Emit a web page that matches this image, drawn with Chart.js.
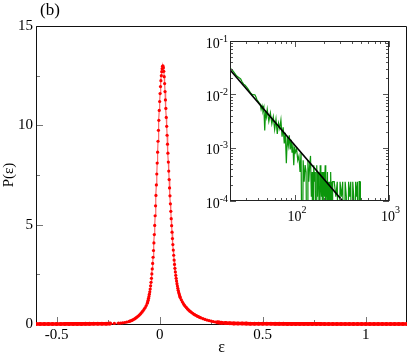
<!DOCTYPE html>
<html><head><meta charset="utf-8">
<style>
html,body{margin:0;padding:0;background:#fff;}
#wrap{position:relative;width:409px;height:354px;overflow:hidden;}
#main{position:absolute;left:0;top:0;}
#inset{position:absolute;left:200px;top:30px;}
</style>
<script src="https://cdn.jsdelivr.net/npm/chart.js@4/dist/chart.umd.min.js"></script>
</head><body>
<div id="wrap"><canvas id="main" width="409" height="354"></canvas><canvas id="inset" width="210" height="200"></canvas></div>
<script>
// ---------- main panel data: P(eps) ----------
const eps = [
 -0.60,-0.58,-0.56,-0.54,-0.52,-0.50,-0.48,-0.46,-0.44,-0.42,-0.40,-0.38,-0.36,-0.34,-0.32,-0.30,-0.28,-0.26,-0.24,-0.22,
 -0.20,-0.19,-0.18,-0.17,-0.16,-0.15,
 -0.145,-0.14,-0.135,-0.13,-0.125,-0.12,-0.115,-0.11,-0.105,-0.10,-0.095,-0.09,-0.085,-0.08,-0.075,-0.07,-0.065,
 -0.060,-0.058,-0.056,-0.054,-0.052,-0.050,-0.048,-0.046,-0.044,-0.042,-0.040,-0.038,-0.036,-0.034,-0.032,-0.030,-0.028,-0.026,-0.024,-0.022,
 -0.020,-0.018,-0.016,-0.014,-0.012,-0.010,-0.008,-0.006,-0.004,-0.002,0.000,0.002,0.004,0.006,0.008,0.010,0.012,0.014,0.016,0.018,
 0.020,0.022,0.024,0.026,0.028,0.030,0.032,0.034,0.036,0.038,0.040,0.042,0.044,0.046,0.048,0.050,0.052,0.054,0.056,0.058,
 0.060,0.062,0.064,0.066,0.068,0.070,0.072,0.074,0.076,0.078,0.080,0.082,0.084,0.086,0.088,0.090,0.092,0.094,0.096,0.098,0.100,
 0.105,0.11,0.115,0.12,0.125,0.13,0.135,0.14,0.145,0.15,0.155,0.16,0.165,0.17,0.175,0.18,0.185,0.19,0.195,0.20,
 0.21,0.22,0.23,0.24,0.25,0.26,0.27,0.28,0.29,0.30,
 0.32,0.34,0.36,0.38,0.40,0.42,0.44,0.46,0.48,0.50,0.52,0.54,0.56,0.58,0.60,0.62,0.64,0.66,0.68,0.70,
 0.72,0.74,0.76,0.78,0.80,0.82,0.84,0.86,0.88,0.90,0.92,0.94,0.96,0.98,1.00,1.02,1.04,1.06,1.08,1.10,
 1.12,1.14,1.16,1.18,1.20
];
const prob = [
 0.002,0.002,0.002,0.003,0.003,0.003,0.003,0.004,0.004,0.005,0.005,0.006,0.007,0.008,0.009,0.011,0.013,0.016,0.020,0.027,
 0.040,0.048,0.060,0.075,0.095,0.120,
 0.14,0.16,0.18,0.21,0.24,0.27,0.31,0.35,0.39,0.44,0.49,0.55,0.61,0.68,0.75,0.83,0.93,
 1.05,1.12,1.20,1.29,1.39,1.50,1.62,1.76,1.92,2.10,2.30,2.52,2.77,3.05,3.36,3.70,4.08,4.50,4.96,5.45,
 5.95,6.47,7.00,7.55,8.10,8.65,9.20,9.75,10.25,10.75,11.20,11.60,11.95,12.25,12.50,12.70,12.85,12.97,13.00,12.90,
 12.72,12.45,12.10,11.70,11.28,10.85,10.40,9.95,9.50,9.05,8.60,8.15,7.70,7.27,6.85,6.45,6.05,5.67,5.30,4.95,
 4.62,4.30,4.00,3.72,3.46,3.22,3.00,2.80,2.62,2.45,2.30,2.16,2.03,1.91,1.80,1.70,1.61,1.53,1.46,1.39,1.33,
 1.22,1.12,1.03,0.95,0.88,0.82,0.76,0.71,0.66,0.62,0.58,0.54,0.50,0.47,0.44,0.41,0.38,0.36,0.33,0.31,
 0.27,0.23,0.20,0.17,0.145,0.12,0.10,0.085,0.072,0.062,
 0.048,0.038,0.031,0.026,0.022,0.019,0.016,0.014,0.012,0.011,0.010,0.009,0.008,0.007,0.007,0.006,0.006,0.005,0.005,0.005,
 0.004,0.004,0.004,0.004,0.003,0.003,0.003,0.003,0.003,0.003,0.003,0.002,0.002,0.002,0.002,0.002,0.002,0.002,0.002,0.002,
 0.002,0.002,0.002,0.002,0.002
];
const xMajor = [-0.5, 0, 0.5, 1];
const xMinor = [-0.25, 0.25, 0.75];
const xLabels = ['-0.5', '0', '0.5', '1'];
const yMajor = [0, 5, 10, 15];
const yMinor = [2.5, 7.5, 12.5];
const yLabels = ['0', '5', '10', '15'];

// ---------- inset data (log-log) ----------
const gx = [
 20,21,22,23,24,25,26,27,28,29,30,31,32,33,34,35,36,37,38,39,40,41,42,43,44,45,46,47,48,49,50,
 52,54,56,58,60,62,64,66,68,70,72,74,76,78,80,82,84,86,88,90,92,94,96,98,100,
 103,106,109,112,115,118,121,124,127,130,133,136,139,142,145,148,151,154,157,160,
 163,166,169,172,175,178,181,184,187,190,193,196,199,202,205,208,211,214,217,220,
 223,226,229,232,235,238,241,244,247,250,
 260,270,280,290,300,310,320,330,340,350,360,370,380,390,400,410,420,430,440,450,460,470,480,490,495
];
const gy = [
 0.031,0.029,0.026,0.0235,0.0215,0.0205,0.0195,0.017,0.0155,0.0148,0.0138,0.0128,0.0118,0.0108,0.0101,0.0098,0.0099,0.0097,0.0088,0.0078,
 0.0074,0.0069,0.0066,0.0052,0.0061,0.0049,0.0057,0.0021,0.0049,0.0038,0.0052,
 0.0031,0.0045,0.0028,0.0038,0.0022,0.0034,0.0018,0.0029,0.0023,0.0033,0.0016,0.0024,0.0012,0.0019,0.00051,0.0016,0.0011,0.0017,0.00093,0.0014,
 0.00082,0.0012,0.00047,0.00105,0.00082,
 0.00094,0.00058,0.0007,0.00035,0.00082,1e-6,0.00058,0.00023,0.00047,0.00035,1e-6,0.00058,0.00023,0.00047,0.0007,0.00012,0.00035,1e-6,0.00047,0.00023,
 0.00035,1e-6,0.00047,0.00012,0.00035,0.00023,1e-6,0.00047,0.00023,0.00012,0.00035,1e-6,0.00023,0.00035,0.00012,0.00047,1e-6,0.00023,0.00012,0.00035,
 1e-6,0.00023,0.00012,0.00023,1e-6,0.00035,0.00012,0.00023,1e-6,0.00023,
 0.00023,0.00012,0.00023,1e-6,0.00023,0.00012,0.00023,1e-6,0.00023,0.00012,1e-6,0.00023,0.00012,0.00023,1e-6,0.00023,0.00012,1e-6,0.00023,0.00012,
 0.00023,1e-6,0.00023,0.00023,1e-6
];
const fitX = [20, 320];
const fitY = [0.029, 0.0001];
const insetXMajor = [100, 1000];
const insetXExp = ['2', '3'];
const insetYMajor = [1e-1, 1e-2, 1e-3, 1e-4];
const insetYExp = ['-1', '-2', '-3', '-4'];

const SERIF = '"Liberation Serif", "Times New Roman", serif';
const inTail = v => Math.abs(v - 0.02) > 0.25;

// ---------- main chart ----------
const mainDeco = {
  id: 'mainDeco',
  beforeDatasetsDraw(chart) {
    const {ctx, chartArea: a, scales: {x, y}} = chart;
    ctx.save();
    ctx.lineWidth = 1;
    ctx.strokeStyle = '#777';
    ctx.beginPath();
    yMajor.forEach(v => { const p = Math.round(y.getPixelForValue(v)) + 0.5; ctx.moveTo(a.left, p); ctx.lineTo(a.left + 7, p); });
    yMinor.forEach(v => { const p = Math.round(y.getPixelForValue(v)) + 0.5; ctx.moveTo(a.left, p); ctx.lineTo(a.left + 4, p); });
    xMajor.forEach(v => { const p = Math.round(x.getPixelForValue(v)) + 0.5; ctx.moveTo(p, a.bottom); ctx.lineTo(p, a.bottom - 7); });
    xMinor.forEach(v => { const p = Math.round(x.getPixelForValue(v)) + 0.5; ctx.moveTo(p, a.bottom); ctx.lineTo(p, a.bottom - 4); });
    ctx.stroke();
    ctx.strokeStyle = '#111';
    ctx.beginPath();
    ctx.moveTo(a.left + 0.5, a.top + 0.5); ctx.lineTo(a.right - 0.5, a.top + 0.5);
    ctx.lineTo(a.right - 0.5, a.bottom); ctx.moveTo(a.left + 0.5, a.top + 0.5);
    ctx.lineTo(a.left + 0.5, a.bottom + 0.5); ctx.lineTo(a.right, a.bottom + 0.5);
    ctx.stroke();
    ctx.restore();
  },
  afterDraw(chart) {
    const {ctx, chartArea: a} = chart;
    ctx.save();
    ctx.fillStyle = '#000';
    ctx.textBaseline = 'middle';
    ctx.textAlign = 'left';
    ctx.font = '17px ' + SERIF;
    ctx.fillText('(b)', 40, 11);
    ctx.textAlign = 'center';
    ctx.font = '16px ' + SERIF;
    ctx.fillText('\u03b5', (a.left + a.right) / 2, 348);
    ctx.translate(9, (a.top + a.bottom) / 2);
    ctx.rotate(-Math.PI / 2);
    ctx.font = '15px ' + SERIF;
    ctx.fillText('P(\u03b5)', 0, 0);
    ctx.restore();
  }
};

new Chart(document.getElementById('main'), {
  type: 'line',
  data: {
    datasets: [{
      data: eps.map((e, i) => ({x: e, y: prob[i]})),
      borderColor: 'rgba(255,0,0,0.6)',
      borderWidth: 1.2,
      segment: {
        borderWidth: c => (inTail(c.p0.parsed.x) && inTail(c.p1.parsed.x) ? 3.6 : 1.2),
        borderColor: c => (inTail(c.p0.parsed.x) && inTail(c.p1.parsed.x) ? '#ff0000' : 'rgba(255,0,0,0.6)')
      },
      pointRadius: c => (c.raw && inTail(c.raw.x) ? 2.0 : 1.6),
      pointBackgroundColor: '#ff0000',
      pointBorderWidth: 0,
      pointHoverRadius: 0,
      tension: 0,
      clip: {left: 0, right: 0, top: 5, bottom: 5}
    }]
  },
  options: {
    responsive: false,
    animation: false,
    devicePixelRatio: 1,
    events: [],
    layout: {padding: {top: 26, right: 1, left: 0, bottom: 0}},
    plugins: {legend: {display: false}, tooltip: {enabled: false}},
    scales: {
      x: {
        type: 'linear', min: -0.6, max: 1.2,
        grid: {display: false, drawTicks: false},
        border: {display: false},
        afterBuildTicks: s => { s.ticks = xMajor.map(v => ({value: v})); },
        afterFit: s => { s.height = 30; },
        ticks: {callback: (v, i) => xLabels[i], font: {family: SERIF, size: 15}, color: '#000', padding: 2, maxRotation: 0, autoSkip: false}
      },
      y: {
        type: 'linear', min: 0, max: 15,
        grid: {display: false, drawTicks: false},
        border: {display: false},
        afterBuildTicks: s => { s.ticks = yMajor.map(v => ({value: v})); },
        afterFit: s => { s.width = 36; },
        ticks: {callback: (v, i) => yLabels[i], font: {family: SERIF, size: 15}, color: '#000', padding: 3, autoSkip: false}
      }
    }
  },
  plugins: [mainDeco]
});

// ---------- inset chart ----------
const insetDeco = {
  id: 'insetDeco',
  afterDatasetsDraw(chart) {
    const {ctx, chartArea: a, scales: {x, y}} = chart;
    ctx.save();
    ctx.lineWidth = 1;
    ctx.strokeStyle = '#555';
    ctx.beginPath();
    const minorX = [], minorY = [];
    [10, 100].forEach(d => { for (let m = 2; m <= 9; m++) { const v = d * m; if (v > 20 && v < 1000) minorX.push(v); } });
    [1e-4, 1e-3, 1e-2].forEach(d => { for (let m = 2; m <= 9; m++) minorY.push(d * m); });
    insetXMajor.forEach(v => { const p = Math.round(x.getPixelForValue(v)) + 0.5; ctx.moveTo(p, a.bottom); ctx.lineTo(p, a.bottom - 6); ctx.moveTo(p, a.top); ctx.lineTo(p, a.top + 6); });
    minorX.forEach(v => { const p = Math.round(x.getPixelForValue(v)) + 0.5; ctx.moveTo(p, a.bottom); ctx.lineTo(p, a.bottom - 3); ctx.moveTo(p, a.top); ctx.lineTo(p, a.top + 3); });
    insetYMajor.forEach(v => { const p = Math.round(y.getPixelForValue(v)) + 0.5; ctx.moveTo(a.left, p); ctx.lineTo(a.left + 6, p); ctx.moveTo(a.right, p); ctx.lineTo(a.right - 6, p); });
    minorY.forEach(v => { const p = Math.round(y.getPixelForValue(v)) + 0.5; ctx.moveTo(a.left, p); ctx.lineTo(a.left + 3, p); ctx.moveTo(a.right, p); ctx.lineTo(a.right - 3, p); });
    ctx.stroke();
    ctx.strokeStyle = '#222';
    ctx.strokeRect(a.left + 0.5, a.top + 0.5, a.right - a.left - 1, a.bottom - a.top - 1);
    ctx.restore();
  },
  afterDraw(chart) {
    const {ctx, chartArea: a, scales: {x, y}} = chart;
    ctx.save();
    ctx.fillStyle = '#000';
    ctx.textBaseline = 'middle';
    insetYMajor.forEach((v, i) => {
      const p = y.getPixelForValue(v);
      ctx.font = '10px ' + SERIF;
      const ew = ctx.measureText(insetYExp[i]).width;
      ctx.textAlign = 'right';
      ctx.fillText(insetYExp[i], a.left - 2, p - 2);
      ctx.font = '14px ' + SERIF;
      ctx.fillText('10', a.left - 2 - ew, p + 3);
    });
    insetXMajor.forEach((v, i) => {
      const p = x.getPixelForValue(v);
      ctx.font = '14px ' + SERIF;
      ctx.textAlign = 'center';
      ctx.fillText('10', p - 1, a.bottom + 16);
      ctx.font = '10px ' + SERIF;
      ctx.textAlign = 'left';
      ctx.fillText(insetXExp[i], p + 6, a.bottom + 9);
    });
    ctx.restore();
  }
};

new Chart(document.getElementById('inset'), {
  type: 'line',
  data: {
    datasets: [
      {data: fitX.map((v, i) => ({x: v, y: fitY[i]})), borderColor: '#000', borderWidth: 1.6, pointRadius: 0, tension: 0},
      {data: gx.map((v, i) => ({x: v, y: gy[i]})), borderColor: '#0b960b', borderWidth: 1.2, pointRadius: 0, tension: 0}
    ]
  },
  options: {
    responsive: false,
    animation: false,
    devicePixelRatio: 1,
    events: [],
    layout: {padding: {left: 30, right: 21, top: 11, bottom: 29}},
    plugins: {legend: {display: false}, tooltip: {enabled: false}},
    scales: {
      x: {type: 'logarithmic', min: 20, max: 1000, display: false},
      y: {type: 'logarithmic', min: 1e-4, max: 1e-1, display: false}
    }
  },
  plugins: [insetDeco]
});
</script>
</body></html>
